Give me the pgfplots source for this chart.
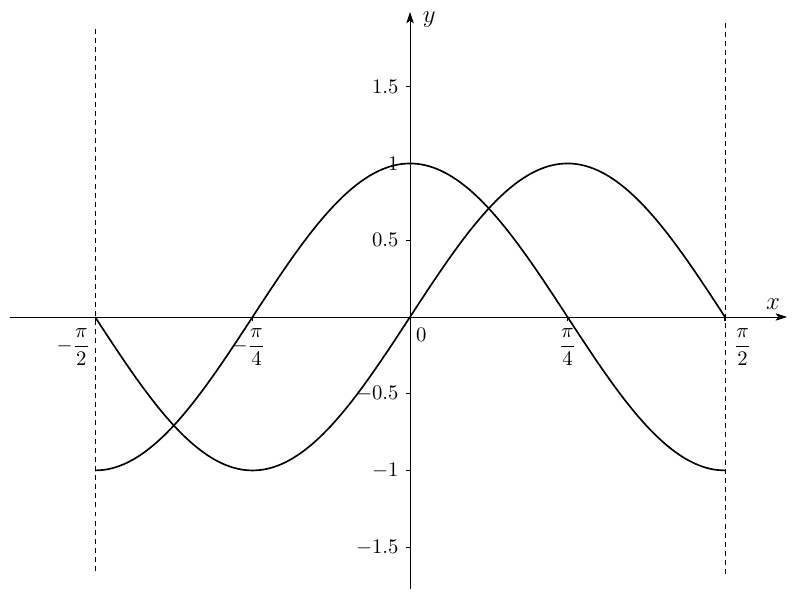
\documentclass[border=0pt]{standalone}
\usepackage{pgfplots}
\usepackage{pgfplotstable}
\pgfplotsset{compat=1.18}
\usetikzlibrary{arrows.meta}
\usepackage{amsmath}
\pgfplotstableread{
x s c
-1.570796 0 -1
-1.521709 -0.098017 -0.995185
-1.472622 -0.195090 -0.980785
-1.423534 -0.290285 -0.956940
-1.374447 -0.382683 -0.923880
-1.325359 -0.471397 -0.881921
-1.276272 -0.555570 -0.831470
-1.227185 -0.634393 -0.773010
-1.178097 -0.707107 -0.707107
-1.129010 -0.773010 -0.634393
-1.079922 -0.831470 -0.555570
-1.030835 -0.881921 -0.471397
-0.981748 -0.923880 -0.382683
-0.932660 -0.956940 -0.290285
-0.883573 -0.980785 -0.195090
-0.834486 -0.995185 -0.098017
-0.785398 -1 0
-0.736311 -0.995185 0.098017
-0.687223 -0.980785 0.195090
-0.638136 -0.956940 0.290285
-0.589049 -0.923880 0.382683
-0.539961 -0.881921 0.471397
-0.490874 -0.831470 0.555570
-0.441786 -0.773010 0.634393
-0.392699 -0.707107 0.707107
-0.343612 -0.634393 0.773010
-0.294524 -0.555570 0.831470
-0.245437 -0.471397 0.881921
-0.196350 -0.382683 0.923880
-0.147262 -0.290285 0.956940
-0.098175 -0.195090 0.980785
-0.049087 -0.098017 0.995185
0 0 1
0.049087 0.098017 0.995185
0.098175 0.195090 0.980785
0.147262 0.290285 0.956940
0.196350 0.382683 0.923880
0.245437 0.471397 0.881921
0.294524 0.555570 0.831470
0.343612 0.634393 0.773010
0.392699 0.707107 0.707107
0.441786 0.773010 0.634393
0.490874 0.831470 0.555570
0.539961 0.881921 0.471397
0.589049 0.923880 0.382683
0.638136 0.956940 0.290285
0.687223 0.980785 0.195090
0.736311 0.995185 0.098017
0.785398 1 0
0.834486 0.995185 -0.098017
0.883573 0.980785 -0.195090
0.932660 0.956940 -0.290285
0.981748 0.923880 -0.382683
1.030835 0.881921 -0.471397
1.079922 0.831470 -0.555570
1.129010 0.773010 -0.634393
1.178097 0.707107 -0.707107
1.227185 0.634393 -0.773010
1.276272 0.555570 -0.831470
1.325359 0.471397 -0.881921
1.374447 0.382683 -0.923880
1.423534 0.290285 -0.956940
1.472622 0.195090 -0.980785
1.521709 0.098017 -0.995185
1.570796 0 -1
}\curves
\begin{document}
\begin{tikzpicture}
\begin{axis}[
  x=96.86pt, y=74.15pt,
  axis lines=middle,
  axis line style={-{Stealth[length=5.5pt,width=3.6pt,inset=1.3pt]}},
  xmin=-1.995, xmax=1.88,
  ymin=-1.772, ymax=1.987,
  clip=false,
  hide obscured x ticks=false,
  hide obscured y ticks=false,
  tick align=outside,
  major tick length=2pt,
  tick style={black, line width=0.5pt},
  xtick={-1.5708,-0.7854,0,0.7854,1.5708},
  xticklabels={\llap{$-\dfrac{\pi}{2}$\kern2.4pt},$-\dfrac{\pi}{4}$\hbox to 4pt{},\rlap{\kern3pt$0$},$\dfrac{\pi}{4}$,\rlap{\kern4.3pt$\dfrac{\pi}{2}$}},
  ytick={-1.5,-1,-0.5,0.5,1,1.5},
  xlabel={\large$x$},
  ylabel={\large$y$},
  every axis x label/.style={at={(current axis.right of origin)}, anchor=south east},
  every axis y label/.style={at={(current axis.above origin)}, anchor=north west, inner sep=0pt, xshift=6pt},
]
\addplot[black, thick, smooth] table[x=x, y=s] {\curves};
\addplot[black, thick, smooth] table[x=x, y=c] {\curves};
\addplot[black, thin, dash pattern=on 2.4pt off 2pt] coordinates {(-1.570796,-1.656) (-1.570796,1.896)};
\addplot[black, thin, dash pattern=on 2.4pt off 2pt] coordinates {(1.570796,-1.675) (1.570796,1.922)};
\coordinate (bbsw) at (axis cs:-2.045,-1.844);
\coordinate (bbne) at (axis cs:1.930,2.065);
\end{axis}
\pgfresetboundingbox
\useasboundingbox (bbsw) rectangle (bbne);
\end{tikzpicture}
\end{document}
